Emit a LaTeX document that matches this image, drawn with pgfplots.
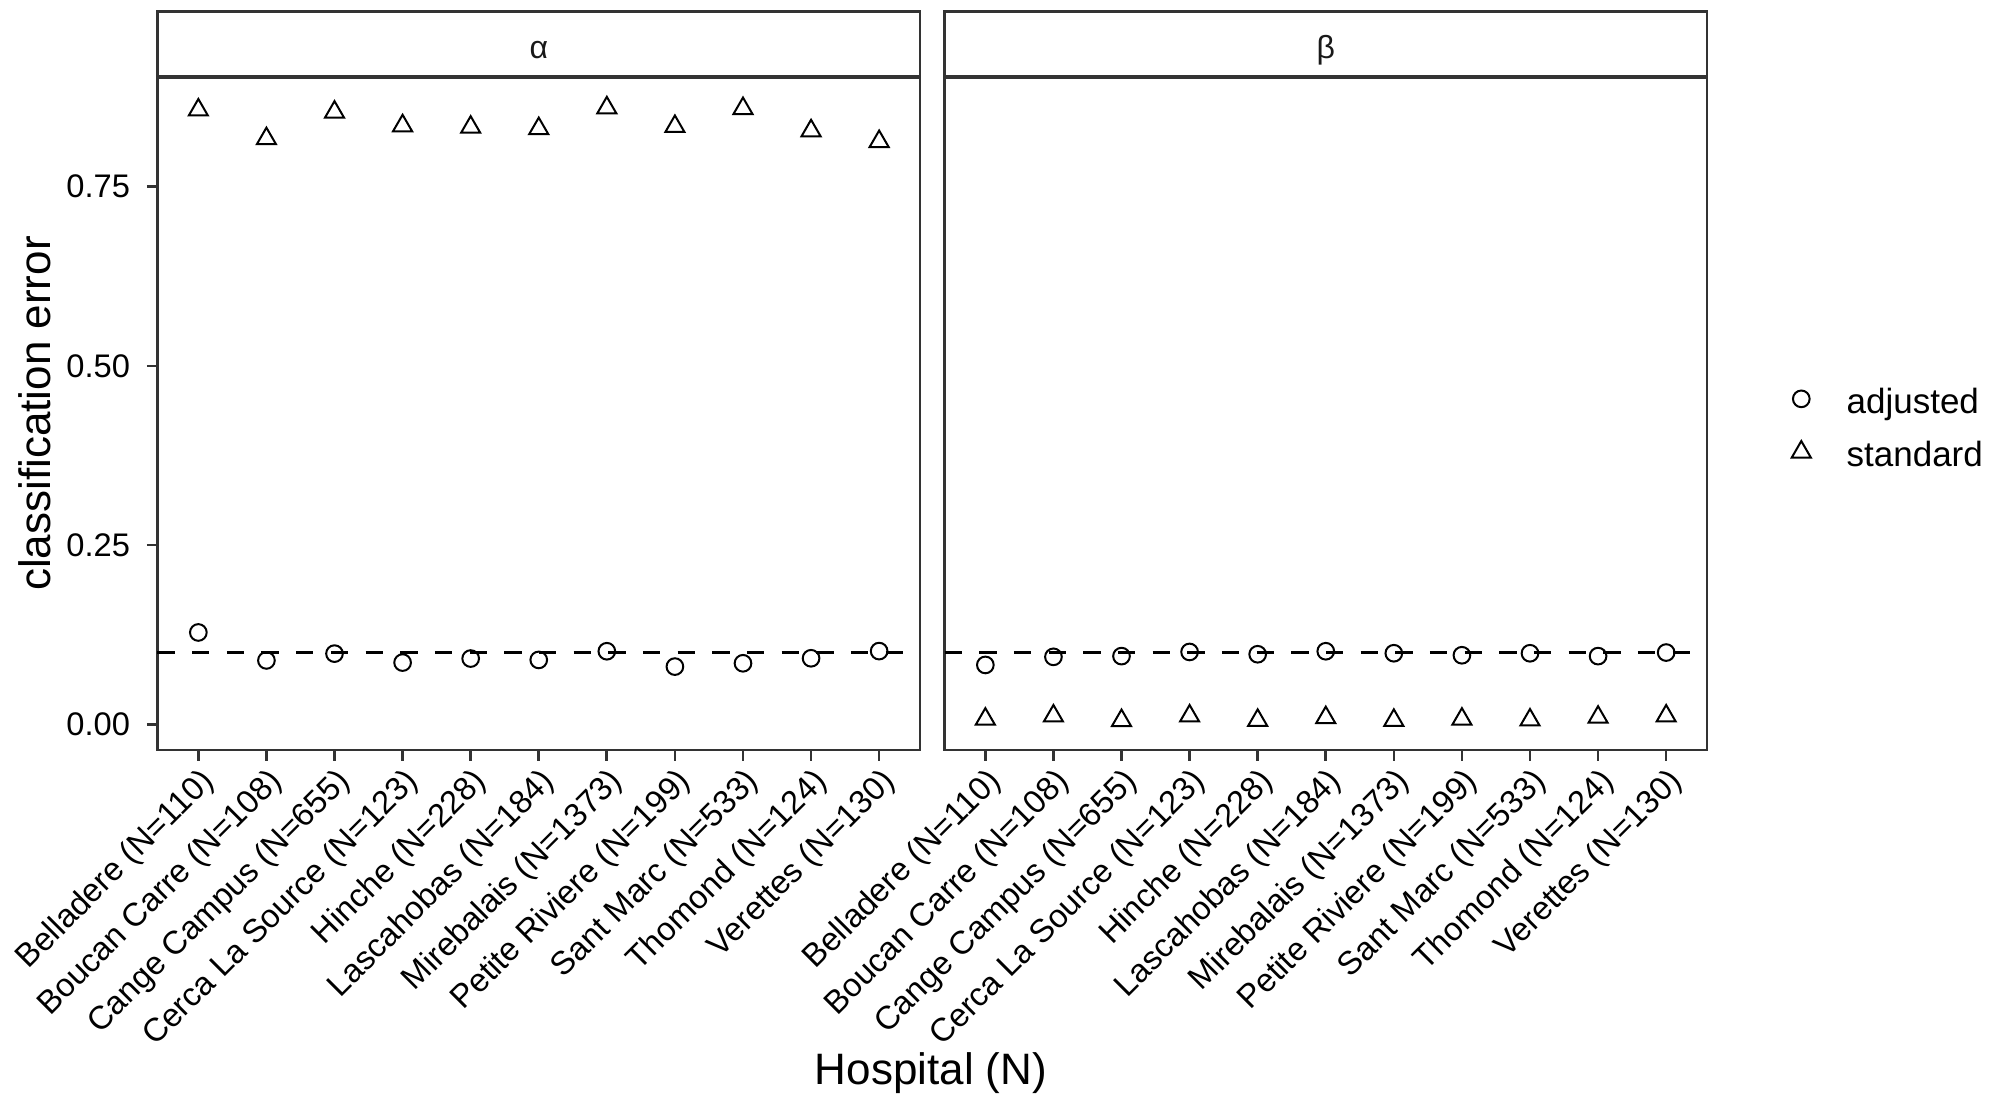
\documentclass[border=0pt]{standalone}
\usepackage{fontspec}
\setmainfont{Liberation Sans}
\usepackage{pgfplots}
\pgfplotsset{compat=1.18}
\definecolor{grey20}{HTML}{333333}

\pgfplotsset{
  panel/.style={
    scale only axis, width=228.75pt, height=201.9pt,
    anchor=south west,
    xmin=0.4, xmax=11.6, ymin=-0.036, ymax=0.903,
    axis line style={grey20, line width=0.7pt},
    tick align=outside, major tick length=3.2pt,
    tick style={grey20, line width=0.8pt},
    xtick={1,...,11},
    xticklabels={{Belladere (N=110)},{Boucan Carre (N=108)},{Cange Campus (N=655)},
      {Cerca La Source (N=123)},{Hinche (N=228)},{Lascahobas (N=184)},
      {Mirebalais (N=1373)},{Petite Riviere (N=199)},{Sant Marc (N=533)},
      {Thomond (N=124)},{Verettes (N=130)}},
    xtick pos=left, ytick pos=left,
    xticklabel style={rotate=45, anchor=north east, font=\fontsize{9.8}{11}\selectfont, text=black, inner sep=1pt},
    yticklabel style={font=\fontsize{9.8}{11}\selectfont, text=black, xshift=-1.5pt},
    /pgf/number format/assume math mode=true,
    clip=false,
  },
  adj/.style={only marks, mark=o, mark size=2.5pt, line width=0.6pt, black},
  std/.style={only marks, mark=triangle, mark size=3.3pt, line width=0.6pt, black},
  ref/.style={black, line width=0.8pt, dash pattern=on 5.2pt off 5.2pt, forget plot},
}

\begin{document}
\begin{tikzpicture}
\useasboundingbox (0,0) rectangle (602.4pt,-334.5pt);

% alpha panel
\begin{axis}[panel, at={(47.25pt,-225pt)},
  ytick={0,0.25,0.5,0.75},
  yticklabels={0.00,0.25,0.50,0.75},
  ylabel={classification error},
  every axis y label/.style={at={(axis description cs:-0.1611,0.5)}, rotate=90, anchor=center,
    font=\fontsize{13.2}{15}\selectfont},
]
\addplot[adj] coordinates {
  (1,0.128) (2,0.089) (3,0.0985) (4,0.086) (5,0.0916) (6,0.0897)
  (7,0.1018) (8,0.0804) (9,0.085) (10,0.092) (11,0.102)
};
\addplot[std] coordinates {
  (1,0.857) (2,0.817) (3,0.854) (4,0.835) (5,0.833) (6,0.831)
  (7,0.860) (8,0.834) (9,0.859) (10,0.828) (11,0.813)
};
\addplot[ref] coordinates {(0.4,0.1) (11.6,0.1)};
\draw[grey20, line width=0.7pt, fill=white] (rel axis cs:0,1) rectangle ([yshift=19.65pt]rel axis cs:1,1);
\draw[grey20, line width=1.4pt] (rel axis cs:0,1) -- (rel axis cs:1,1);
\node[text=black!90, font=\fontsize{9.6}{11}\selectfont] at ([yshift=8.0pt]rel axis cs:0.5,1) {α};
\end{axis}

% beta panel
\begin{axis}[panel, at={(283.35pt,-225pt)},
  ytick=\empty,
  legend style={draw=none, fill=none, at={(axis description cs:1.0922,0.5493)}, anchor=north west,
    font=\fontsize{10.5}{12}\selectfont, row sep=6.85pt, nodes={inner sep=0pt}},
  legend cell align=left,
  legend image code/.code={\path[draw=none] (-4pt,0pt) -- (13.6pt,0pt); \draw[#1] plot coordinates {(0pt,1.2pt)};},
]
\addplot[adj] coordinates {
  (1,0.0827) (2,0.094) (3,0.095) (4,0.1008) (5,0.0976) (6,0.1018)
  (7,0.099) (8,0.0962) (9,0.099) (10,0.095) (11,0.100)
};
\addlegendentry{adjusted}
\addplot[std] coordinates {
  (1,0.0071) (2,0.0115) (3,0.0051) (4,0.0115) (5,0.0054) (6,0.0092)
  (7,0.0054) (8,0.0071) (9,0.0059) (10,0.0098) (11,0.0115)
};
\addlegendentry{standard}
\addplot[ref] coordinates {(0.4,0.1) (11.6,0.1)};
\draw[grey20, line width=0.7pt, fill=white] (rel axis cs:0,1) rectangle ([yshift=19.65pt]rel axis cs:1,1);
\draw[grey20, line width=1.4pt] (rel axis cs:0,1) -- (rel axis cs:1,1);
\node[text=black!90, font=\fontsize{9.6}{11}\selectfont] at ([yshift=8.0pt]rel axis cs:0.5,1) {β};
\end{axis}

\node[font=\fontsize{13.2}{15}\selectfont] at (279.3pt,-322pt) {Hospital (N)};
\end{tikzpicture}
\end{document}
